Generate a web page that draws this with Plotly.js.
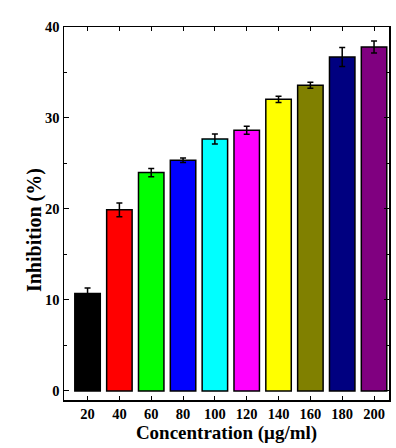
<!DOCTYPE html>
<html><head><meta charset="utf-8">
<script src="https://cdn.plot.ly/plotly-3.0.1.min.js"></script>
<style>html,body{margin:0;padding:0;background:#fff}#chart{width:396px;height:448px}</style>
</head><body><div id="chart"></div>
<script>
const categories = ["20","40","60","80","100","120","140","160","180","200"];
const inhibition = [10.7, 19.9, 24.0, 25.35, 27.7, 28.65, 32.05, 33.6, 36.7, 37.8];
const errors = [0.6, 0.75, 0.45, 0.25, 0.55, 0.45, 0.35, 0.33, 1.05, 0.65];
const barColors = ["#000000","#ff0000","#00ff00","#0000ff","#00ffff","#ff00ff","#ffff00","#808000","#000080","#800080"];
const yTicks = [0, 10, 20, 30, 40];

const idx = categories.map((c, i) => i);
const font = {family: "Liberation Serif, Times New Roman, serif", color: "#000"};

Plotly.newPlot("chart", [{
  type: "bar",
  x: idx,
  y: inhibition,
  width: 0.8,
  marker: {color: barColors, line: {color: "#000", width: 1.5}},
  error_y: {type: "data", array: errors, visible: true, color: "#000", thickness: 1.5, width: 3}
}], {
  width: 396, height: 448,
  margin: {l: 64, r: 7, t: 27, b: 48},
  paper_bgcolor: "#fff", plot_bgcolor: "#fff",
  showlegend: false,
  xaxis: {
    range: [-0.74, 9.47],
    tickvals: idx, ticktext: categories,
    ticks: "inside", ticklen: 4, tickwidth: 1, tickcolor: "#000",
    showline: true, linecolor: "#000", linewidth: 1.5, mirror: "ticks",
    showgrid: false, zeroline: false,
    tickfont: Object.assign({size: 14.5, weight: "bold"}, font),
    title: {text: "Concentration (μg/ml)", font: Object.assign({size: 19, weight: "bold"}, font), standoff: 0}
  },
  yaxis: {
    range: [-1, 40],
    tickvals: yTicks,
    ticks: "inside", ticklen: 5, tickwidth: 1, tickcolor: "#000",
    minor: {dtick: 5, tick0: 5, ticks: "inside", ticklen: 3, tickcolor: "#000", showgrid: false},
    showline: true, linecolor: "#000", linewidth: 1.5, mirror: "ticks",
    showgrid: false, zeroline: false,
    tickfont: Object.assign({size: 14.5, weight: "bold"}, font)
  },
  annotations: [{
    text: "Inhibition (%)", textangle: -90,
    xref: "paper", yref: "paper", x: -0.09, y: 0.455, xanchor: "center", yanchor: "middle",
    showarrow: false,
    font: Object.assign({size: 20, weight: "bold"}, font)
  }]
}, {displayModeBar: false, staticPlot: true});
</script></body></html>
